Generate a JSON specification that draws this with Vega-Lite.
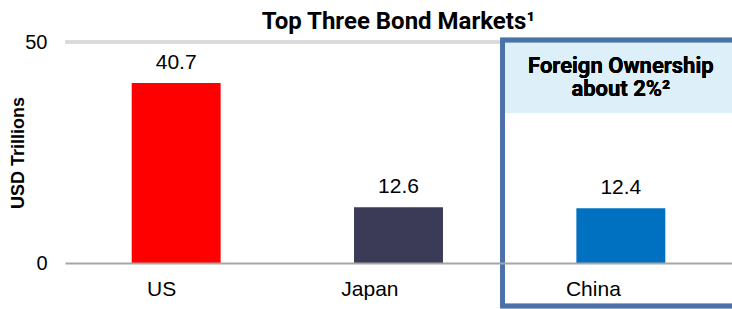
{
  "$schema": "https://vega.github.io/schema/vega-lite/v6.json",
  "width": 667,
  "height": 221,
  "autosize": "none",
  "padding": {"left": 65, "top": 42, "right": 0, "bottom": 46},
  "background": "white",
  "title": {
    "text": "Top Three Bond Markets¹",
    "font": "Roboto",
    "fontSize": 24,
    "fontWeight": "bold",
    "color": "#000000",
    "anchor": "middle",
    "baseline": "top",
    "offset": 15,
    "dy": 17
  },
  "data": {
    "values": [
      {"market": "US", "value": 40.7, "color": "US"},
      {"market": "Japan", "value": 12.6, "color": "Japan"},
      {"market": "China", "value": 12.4, "color": "China"}
    ]
  },
  "config": {
    "view": {"stroke": null},
    "axis": {"labelFont": "Liberation Sans", "titleFont": "Liberation Sans"}
  },
  "layer": [
    {
      "mark": {"type": "rule", "color": "#D9D9D9", "strokeWidth": 3},
      "encoding": {
        "y": {"datum": 50, "type": "quantitative"}
      }
    },
    {
      "mark": {"type": "rect", "fill": "#DDEFF8", "yOffset": -2},
      "encoding": {
        "x": {"datum": "China", "bandPosition": -0.83, "type": "nominal"},
        "x2": {"datum": "China", "bandPosition": 2},
        "y": {"datum": 50, "type": "quantitative"},
        "y2": {"datum": 34}
      }
    },
    {
      "mark": {"type": "bar"},
      "encoding": {
        "x": {
          "field": "market",
          "type": "nominal",
          "sort": ["US", "Japan", "China"],
          "scale": {"paddingInner": 0.6, "paddingOuter": 0.3},
          "axis": {
            "title": null,
            "labelAngle": 0,
            "labelFontSize": 21,
            "labelColor": "#000000",
            "labelPadding": 26,
            "ticks": false,
            "domainColor": "#A6A6A6",
            "domainWidth": 2
          }
        },
        "y": {
          "field": "value",
          "type": "quantitative",
          "scale": {"domain": [0, 50], "nice": false},
          "axis": {
            "values": [0, 50],
            "grid": false,
            "title": "USD Trillions",
            "titleFontSize": 18,
            "titleFontWeight": "bold",
            "titleColor": "#000000",
            "titlePadding": -3,
            "labelFontSize": 20,
            "labelColor": "#000000",
            "labelPadding": 18,
            "ticks": false,
            "domain": false
          }
        },
        "color": {
          "field": "color",
          "type": "nominal",
          "scale": {"domain": ["US", "Japan", "China"], "range": ["#FF0000", "#3B3A57", "#0070C0"]},
          "legend": null
        }
      }
    },
    {
      "mark": {"type": "text", "baseline": "alphabetic", "dy": -14, "font": "Liberation Sans", "fontSize": 21, "color": "#000000"},
      "encoding": {
        "x": {"field": "market", "type": "nominal", "sort": ["US", "Japan", "China"]},
        "y": {"field": "value", "type": "quantitative"},
        "text": {"field": "value", "type": "quantitative", "format": ".1f"}
      }
    },
    {
      "mark": {"type": "rect", "fill": null, "stroke": "#4A72A8", "strokeWidth": 4.5, "yOffset": -2, "y2Offset": 43},
      "encoding": {
        "x": {"datum": "China", "bandPosition": -0.83, "type": "nominal"},
        "x2": {"datum": "China", "bandPosition": 2},
        "y": {"datum": 50, "type": "quantitative"},
        "y2": {"datum": 0}
      }
    },
    {
      "mark": {"type": "text", "font": "Roboto", "fontSize": 22, "fontWeight": "bold", "color": "#000000", "lineBreak": "\n", "lineHeight": 23, "baseline": "alphabetic"},
      "encoding": {
        "x": {"datum": "China", "type": "nominal"},
        "y": {"datum": 43, "type": "quantitative"},
        "text": {"value": "Foreign Ownership\nabout 2%²"}
      }
    }
  ]
}
